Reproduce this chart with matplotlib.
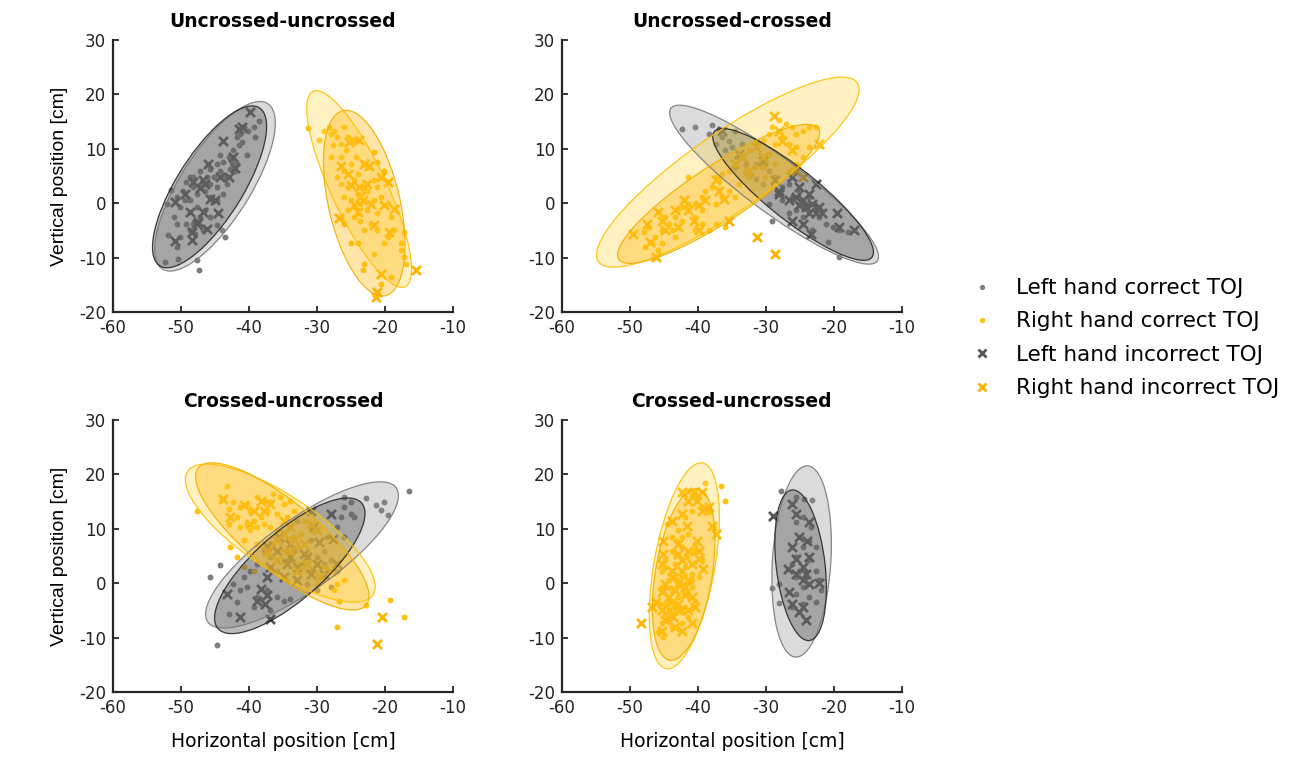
import numpy as np
import matplotlib
matplotlib.use("Agg")
import matplotlib.pyplot as plt
from matplotlib.patches import Ellipse
from matplotlib.lines import Line2D

titles = ["Uncrossed-uncrossed", "Uncrossed-crossed",
          "Crossed-uncrossed", "Crossed-uncrossed"]
x_ticks = [-60, -50, -40, -30, -20, -10]
y_ticks = [-20, -10, 0, 10, 20, 30]
legend_labels = ["Left hand correct TOJ", "Right hand correct TOJ",
                 "Left hand incorrect TOJ", "Right hand incorrect TOJ"]

# ---- panel 1: uncrossed-uncrossed ----
p1_left_ok = np.array([
    [-38.6, 15.1], [-39.1, 12.2], [-40.1, 13.3], [-40.8, 14.0], [-41.3, 12.7], [-41.8, 12.1],
    [-41.5, 10.6], [-42.3, 9.7], [-43.0, 8.5], [-43.8, 7.5], [-42.8, 6.3], [-42.0, 6.0],
    [-43.5, 4.8], [-44.2, 6.0], [-44.7, 7.2], [-45.7, 6.3], [-45.2, 4.8], [-44.7, 3.0],
    [-45.7, 3.6], [-46.5, 2.3], [-47.2, 3.0], [-47.7, 1.7], [-48.2, 3.0], [-48.7, 4.8],
    [-49.2, 3.9], [-49.7, 2.3], [-49.4, 0.5], [-50.2, -0.7], [-50.6, 1.1], [-51.4, 2.5],
    [-52.1, -0.1], [-51.1, -2.6], [-50.6, -3.8], [-50.2, -6.2], [-51.9, -5.9], [-50.6, -8.1],
    [-50.4, -10.2], [-52.4, -10.8], [-47.7, -10.5], [-47.3, -12.2], [-43.5, -6.2], [-44.0, -5.0],
    [-44.7, -4.1], [-45.7, -2.6], [-46.5, -1.3], [-47.2, -2.6], [-48.2, -3.8], [-48.7, -5.0],
    [-47.9, -5.6], [-45.7, 1.1], [-44.7, 0.5], [-43.8, 1.7], [-43.3, 3.6], [-44.2, 8.8],
    [-42.5, 7.5], [-41.8, 7.2], [-40.3, 8.8], [-41.0, 11.2], [-39.3, 14.0], [-48.2, 4.8],
    [-47.2, 6.0], [-46.2, 4.8], [-48.7, 0.5], [-47.7, -0.7], [-46.7, -5.0], [-49.2, -3.8]])
p1_left_err = np.array([
    [-39.8, 16.7], [-41.0, 14.0], [-41.5, 13.7], [-43.8, 11.5], [-42.3, 8.5], [-42.0, 6.5],
    [-46.0, 7.2], [-43.0, 4.8], [-44.2, 4.8], [-46.7, 4.2], [-48.2, 3.9], [-47.2, 2.7],
    [-46.5, 3.6], [-49.4, 1.7], [-50.9, 0.2], [-45.7, 0.8], [-44.5, -1.8], [-46.7, -1.6],
    [-48.7, -1.6], [-47.5, -3.5], [-46.2, -4.7], [-48.4, -5.3], [-48.4, -6.7], [-50.9, -7.0],
    [-47.7, -3.8], [-45.0, 0.5]])
p1_right_ok = np.array([
    [-31.3, 13.8], [-29.7, 11.6], [-29.0, 13.3], [-28.2, 14.0], [-28.0, 12.7], [-27.5, 13.3],
    [-27.0, 12.1], [-26.5, 10.9], [-26.0, 14.0], [-27.7, 10.6], [-28.0, 8.5], [-26.5, 8.5],
    [-25.8, 9.7], [-25.0, 7.2], [-26.0, 6.0], [-27.0, 4.8], [-26.5, 3.6], [-25.5, 3.0],
    [-24.5, 4.2], [-24.0, 5.4], [-23.1, 7.2], [-22.3, 6.6], [-21.6, 9.4], [-21.1, 7.5],
    [-20.1, 6.0], [-21.6, 4.2], [-23.1, 3.0], [-24.0, 1.7], [-25.0, 0.5], [-26.0, 1.1],
    [-25.5, -1.3], [-24.5, -2.6], [-23.6, -3.2], [-22.6, -1.3], [-21.6, 0.5], [-20.6, 1.1],
    [-19.6, -0.1], [-21.1, -1.9], [-22.1, -3.8], [-23.1, -5.0], [-24.0, -7.4], [-25.0, -7.4],
    [-26.0, -3.8], [-26.5, -2.6], [-23.6, -0.1], [-19.1, -2.6], [-18.6, -5.0], [-17.6, -7.4],
    [-17.2, -9.9], [-17.6, -8.7], [-20.1, -7.4], [-21.1, -5.0], [-19.6, -6.2], [-17.2, -5.3],
    [-16.9, -11.1], [-21.6, -9.3], [-23.1, -11.1], [-23.3, -12.3], [-20.6, -14.8], [-19.1, -13.6],
    [-24.0, -1.9], [-22.6, 2.3], [-21.1, 3.0], [-20.6, 4.8], [-24.3, 8.5], [-25.5, 12.1],
    [-24.5, 11.5]])
p1_right_err = np.array([
    [-25.3, 11.3], [-23.8, 11.6], [-26.5, 6.9], [-25.5, 5.4], [-23.1, 7.2], [-22.3, 6.9],
    [-20.6, 4.8], [-19.6, 3.9], [-22.6, 3.6], [-23.8, 3.0], [-23.6, 1.1], [-24.5, -0.4],
    [-23.3, 0.5], [-20.1, -0.4], [-18.6, -1.0], [-24.0, -1.6], [-26.8, -2.7], [-21.6, -4.1],
    [-19.4, -5.3], [-20.6, -13.0], [-21.1, -16.3], [-21.3, -17.2], [-15.4, -12.3], [-25.0, 3.3],
    [-22.1, -0.1]])

# ---- panel 2: uncrossed-crossed ----
p2_left_ok = np.array([
    [-42.4, 13.7], [-40.4, 14.0], [-37.9, 14.3], [-38.4, 12.7], [-36.9, 13.7], [-36.5, 12.1],
    [-35.5, 11.5], [-35.0, 10.3], [-36.0, 9.7], [-34.0, 8.5], [-34.5, 6.6], [-33.0, 7.2],
    [-32.5, 5.4], [-31.5, 4.5], [-30.5, 3.6], [-29.6, 6.0], [-28.6, 4.8], [-27.6, 3.0],
    [-26.6, 3.6], [-26.1, 1.1], [-25.1, 2.3], [-24.6, -0.1], [-25.6, -1.3], [-26.6, -1.9],
    [-23.6, 1.1], [-22.7, -0.7], [-22.2, -2.6], [-21.2, -3.8], [-20.2, -4.4], [-19.2, -5.0],
    [-18.0, -5.3], [-20.9, -7.1], [-19.2, -9.9], [-23.2, -5.0], [-24.6, -2.6], [-27.6, 0.5],
    [-29.1, -3.2], [-29.6, -0.1], [-28.1, 1.7], [-30.5, 6.6], [-31.5, 7.2], [-33.5, 10.9],
    [-37.4, 10.9], [-34.5, 13.3]])
p2_left_err = np.array([
    [-36.5, 13.3], [-34.0, 9.1], [-32.5, 6.0], [-30.5, 7.8], [-28.6, 4.2], [-26.1, 4.8],
    [-25.1, 3.0], [-28.1, 1.7], [-26.6, 0.5], [-25.6, 1.1], [-24.6, 0.5], [-24.1, -0.7],
    [-23.2, -0.1], [-22.7, 3.6], [-22.2, -0.7], [-23.6, -1.9], [-22.7, -1.9], [-21.7, -1.9],
    [-26.1, -3.2], [-24.6, -3.8], [-19.5, -1.9], [-19.2, -4.4], [-17.0, -5.0], [-23.4, -5.6],
    [-28.1, 2.3], [-25.1, -0.4], [-23.6, 1.7]])
p2_right_ok = np.array([
    [-48.0, -5.3], [-47.3, -4.4], [-46.3, -6.2], [-45.3, -5.0], [-44.3, -3.8], [-43.4, -2.6],
    [-42.4, -3.2], [-41.4, -1.3], [-40.4, -0.1], [-39.4, 1.1], [-38.9, 2.3], [-37.9, 3.0],
    [-36.9, 4.2], [-36.5, 5.4], [-35.5, 6.0], [-34.5, 7.2], [-33.5, 8.5], [-32.5, 9.7],
    [-31.5, 10.9], [-30.5, 11.5], [-29.6, 12.7], [-29.1, 14.0], [-28.1, 15.2], [-27.1, 14.6],
    [-26.1, 14.0], [-25.6, 12.7], [-24.6, 13.3], [-23.6, 14.0], [-22.7, 14.0], [-23.6, 10.3],
    [-24.6, 8.5], [-25.6, 7.2], [-26.6, 6.0], [-28.6, 7.2], [-29.6, 9.1], [-30.5, 6.6],
    [-32.5, 4.8], [-34.0, 3.6], [-35.5, 2.3], [-36.5, 1.1], [-37.4, -0.1], [-38.4, -5.0],
    [-39.4, -3.8], [-40.4, -2.6], [-41.4, -0.1], [-42.4, -0.7], [-43.8, -5.0], [-45.3, -7.4],
    [-45.8, -8.7], [-46.3, -9.9], [-44.8, -2.6], [-42.9, -1.3], [-39.4, -1.3], [-36.0, -4.4],
    [-34.5, 1.1], [-37.4, 4.8], [-41.4, 4.8], [-27.6, 12.1], [-26.6, 10.9], [-25.6, 10.3],
    [-28.6, 10.9], [-31.5, 6.6], [-33.0, 6.0], [-30.1, 4.8], [-37.4, -3.8], [-40.4, -5.0],
    [-43.4, -6.2], [-46.8, -7.4], [-47.8, -8.1]])
p2_right_err = np.array([
    [-49.5, -5.7], [-47.5, -3.8], [-47.0, -7.1], [-46.1, -9.9], [-45.8, -1.6], [-45.3, -3.2],
    [-44.8, -5.0], [-43.4, -1.3], [-42.9, -4.4], [-42.1, 0.5], [-41.4, -1.3], [-40.6, -3.2],
    [-39.9, -5.0], [-39.9, -0.4], [-38.9, 0.5], [-37.4, 4.2], [-36.9, 2.3], [-36.2, 0.8],
    [-35.5, -3.2], [-34.5, 7.2], [-33.5, 8.5], [-31.5, 10.3], [-31.3, -6.2], [-28.8, 16.1],
    [-28.6, -9.3], [-28.1, 13.3], [-27.6, 11.5], [-26.1, 9.7], [-25.6, 6.0], [-24.6, 4.8],
    [-22.2, 10.9], [-32.5, 6.0], [-30.5, 8.5]])

# ---- panel 3: crossed-uncrossed ----
p3_left_ok = np.array([
    [-16.4, 17.0], [-20.1, 14.9], [-21.3, 14.3], [-19.6, 12.6], [-22.8, 15.7], [-25.0, 14.9],
    [-26.0, 14.0], [-25.0, 12.7], [-26.5, 12.1], [-28.0, 12.7], [-27.0, 10.3], [-26.0, 8.5],
    [-28.5, 8.5], [-29.0, 6.0], [-30.9, 7.9], [-30.0, 4.8], [-28.0, 4.2], [-27.0, 2.3],
    [-29.0, 1.1], [-30.9, 2.3], [-31.9, 3.6], [-33.4, 6.0], [-32.9, 3.0], [-34.9, 4.2],
    [-35.9, 2.3], [-36.9, 4.8], [-37.8, 6.0], [-38.8, 3.6], [-39.8, 2.3], [-40.8, 1.1],
    [-42.3, -0.1], [-41.3, -1.3], [-40.3, -0.7], [-38.8, -2.6], [-37.3, -1.3], [-35.9, -2.6],
    [-34.9, -3.2], [-33.9, -2.9], [-36.9, -5.0], [-39.3, -4.4], [-41.8, -3.5], [-43.0, -5.7],
    [-44.2, 3.3], [-45.7, 1.2], [-44.7, -11.4], [-30.0, -1.3], [-28.0, -0.7], [-31.4, -0.1],
    [-29.0, 3.6], [-24.5, 12.1], [-26.0, 15.8], [-20.6, 13.4], [-30.9, 13.3], [-32.9, 11.5]])
p3_left_err = np.array([
    [-30.9, 13.3], [-30.5, 10.6], [-28.0, 12.7], [-27.7, 8.1], [-29.7, 7.5], [-37.3, 6.9],
    [-35.9, 6.0], [-33.9, 4.8], [-31.9, 5.4], [-34.4, 3.6], [-32.9, 3.0], [-31.4, 4.8],
    [-30.0, 3.6], [-36.9, 3.0], [-37.3, 1.1], [-34.9, 1.1], [-32.9, 0.5], [-30.9, 1.7],
    [-29.0, 1.7], [-27.0, 3.6], [-38.3, -1.0], [-37.3, -2.2], [-37.6, -3.8], [-38.8, -3.2],
    [-43.3, -1.9], [-41.3, -6.2], [-36.9, -6.5], [-35.6, 8.5], [-33.9, 7.2]])
p3_right_ok = np.array([
    [-47.6, 13.3], [-43.3, 17.9], [-44.0, 15.5], [-42.3, 14.9], [-43.0, 13.7], [-41.3, 14.0],
    [-40.3, 14.6], [-39.8, 13.3], [-38.8, 15.8], [-37.8, 15.2], [-36.9, 14.9], [-36.4, 16.4],
    [-35.4, 15.8], [-34.9, 14.6], [-33.9, 15.2], [-33.4, 13.3], [-34.4, 12.1], [-35.9, 12.7],
    [-37.3, 13.3], [-38.3, 12.1], [-39.3, 11.5], [-40.3, 10.9], [-41.3, 10.3], [-39.8, 9.7],
    [-38.8, 10.3], [-37.8, 10.9], [-36.9, 10.3], [-35.9, 9.7], [-35.4, 8.5], [-34.4, 7.9],
    [-33.4, 8.5], [-32.4, 9.1], [-32.9, 6.6], [-33.9, 6.0], [-34.9, 6.0], [-36.4, 7.2],
    [-37.3, 5.4], [-38.8, 7.2], [-40.8, 7.9], [-42.8, 6.6], [-41.8, 4.8], [-40.8, 3.0],
    [-39.3, 2.3], [-32.9, 3.6], [-31.4, 2.3], [-29.0, 3.0], [-30.0, -0.1], [-27.0, -0.1],
    [-27.5, -1.3], [-26.8, -3.3], [-22.8, -4.0], [-19.2, -3.0], [-17.2, -6.3], [-27.0, -8.1],
    [-26.0, 0.5], [-30.9, 9.7], [-31.9, 11.5], [-41.8, 12.1], [-43.0, 10.9]])
p3_right_err = np.array([
    [-43.8, 15.5], [-42.8, 12.1], [-40.8, 14.3], [-39.8, 10.9], [-38.3, 15.2], [-36.9, 14.6],
    [-37.8, 13.3], [-34.9, 11.5], [-37.3, 6.0], [-35.9, 7.9], [-34.9, 9.1], [-33.4, 7.9],
    [-33.9, 6.0], [-31.9, 7.2], [-30.9, 10.9], [-30.0, 9.7], [-35.9, 4.2], [-32.9, 2.3],
    [-31.4, 3.6], [-29.5, 1.1], [-28.0, 2.3], [-20.4, -6.2], [-21.1, -11.1], [-39.3, 13.3],
    [-33.9, 10.3]])

# ---- panel 4: crossed-uncrossed (second) ----
p4_left_ok = np.array([
    [-27.8, 17.0], [-25.6, 15.8], [-24.4, 15.5], [-23.2, 15.3], [-24.6, 12.1], [-25.6, 11.2],
    [-23.4, 10.3], [-22.7, 6.6], [-23.6, 7.8], [-24.6, 6.6], [-25.6, 4.8], [-26.1, 3.6],
    [-25.1, 2.3], [-24.1, 1.1], [-22.7, 2.3], [-24.6, -0.7], [-25.6, -1.9], [-23.6, -2.6],
    [-22.7, -3.5], [-24.6, -3.8], [-26.1, -4.4], [-28.1, -3.7], [-29.1, -0.9], [-28.1, -0.1],
    [-21.9, -1.3], [-22.2, 0.5], [-25.6, 1.1], [-23.6, 4.2]])
p4_left_err = np.array([
    [-29.0, 12.4], [-26.1, 14.6], [-25.6, 12.7], [-23.6, 11.2], [-25.1, 8.5], [-23.9, 7.8],
    [-26.1, 6.6], [-23.6, 4.8], [-25.6, 4.5], [-26.8, 2.7], [-24.6, 3.0], [-24.1, 1.7],
    [-24.6, 0.5], [-23.6, -0.1], [-22.2, 0.0], [-26.6, -1.6], [-26.1, -3.8], [-24.6, -4.4],
    [-25.1, -5.3], [-24.1, -6.8], [-25.6, 1.7]])
p4_right_ok = np.array([
    [-38.9, 18.5], [-36.6, 17.8], [-36.0, 15.2], [-38.4, 13.0], [-37.7, 10.3], [-41.4, 17.0],
    [-42.4, 16.4], [-40.4, 15.8], [-39.4, 14.0], [-40.9, 13.3], [-41.9, 12.1], [-43.8, 11.5],
    [-44.6, 10.9], [-42.9, 9.7], [-41.4, 9.1], [-40.4, 7.2], [-42.4, 6.6], [-43.8, 6.0],
    [-44.8, 4.2], [-43.4, 3.6], [-41.9, 3.0], [-40.9, 1.7], [-42.4, 1.1], [-44.3, 0.5],
    [-45.3, -0.7], [-43.8, -1.3], [-42.9, -2.6], [-41.4, -1.9], [-40.4, -3.2], [-41.9, -4.4],
    [-43.4, -5.0], [-44.8, -5.6], [-45.3, -7.4], [-43.8, -8.1], [-45.8, -9.0], [-45.1, -9.9],
    [-42.4, -7.4], [-41.4, -6.2], [-39.9, 1.1], [-39.4, 4.2], [-45.3, 2.3], [-45.6, -3.8],
    [-44.3, -3.2], [-42.9, -0.1], [-40.9, -0.7], [-43.4, 5.4], [-42.4, 8.5], [-43.8, 8.5],
    [-44.6, -0.7], [-43.1, 0.8], [-42.1, -1.3], [-40.9, 0.5], [-43.4, -4.4], [-44.3, -6.5],
    [-42.4, -5.3], [-44.8, 3.0], [-41.6, 4.8], [-40.6, 6.0], [-43.1, 7.8], [-44.8, -3.8]])
p4_right_err = np.array([
    [-48.3, -7.3], [-46.8, -4.4], [-46.1, -3.5], [-45.3, 3.6], [-45.1, 7.8], [-43.8, 11.5],
    [-42.4, 16.7], [-41.4, 15.2], [-40.6, 16.7], [-40.1, 15.2], [-39.4, 13.3], [-37.9, 10.6],
    [-37.4, 9.1], [-40.1, 7.8], [-42.9, 7.2], [-41.4, 6.0], [-39.9, 4.5], [-39.2, 2.7],
    [-42.4, 4.2], [-43.8, 2.3], [-42.9, -0.1], [-41.9, -0.7], [-40.9, -2.6], [-44.3, -2.6],
    [-45.3, -5.0], [-42.9, -3.8], [-41.4, -5.0], [-44.8, -6.8], [-43.4, -8.1], [-45.3, -8.7],
    [-42.4, -8.7], [-43.6, -6.2], [-40.9, -7.4],
    [-43.8, 1.1], [-42.4, 2.3], [-41.4, 0.5], [-44.8, -0.1], [-43.4, -1.3], [-45.3, -1.6],
    [-41.9, -2.2], [-43.8, -3.5], [-42.6, -5.0], [-40.4, -4.4], [-44.3, -5.0], [-40.9, 3.6],
    [-42.9, 5.4], [-45.1, 5.4], [-39.9, 6.0], [-41.6, 10.6], [-39.4, 16.7], [-38.4, 14.0],
    [-42.4, 12.7]])

# ellipses per panel: [center x, center y, semi-major, semi-minor, angle deg]
# order: left light, left dark, right light, right dark
p1_ellipses = [[-45.0, 3.1, 17.1, 5.4, 64.3], [-45.8, 3.0, 16.3, 5.1, 64.5],
               [-23.8, 2.6, 19.2, 4.2, -69.8], [-23.05, 0.0, 17.3, 5.3, -80.2]]
p2_ellipses = [[-28.8, 3.4, 20.7, 4.6, -43.4], [-26.0, 1.6, 16.4, 4.2, -45.8],
               [-35.6, 5.7, 25.2, 6.6, 41.7], [-36.95, 1.7, 19.0, 4.8, 40.1]]
p3_ellipses = [[-32.2, 5.2, 18.6, 6.0, 43.1], [-34.0, 3.2, 15.7, 5.6, 49.4],
               [-35.4, 9.2, 17.8, 6.3, -41.5], [-35.1, 8.6, 17.7, 5.7, -47.1]]
p4_ellipses = [[-24.75, 4.0, 17.6, 4.3, 87.2], [-24.9, 3.3, 13.9, 3.6, 95.1],
               [-42.0, 3.2, 19.1, 4.5, 82.2], [-42.1, 1.6, 15.9, 4.2, 82.9]]

panels = [
    (p1_left_ok, p1_left_err, p1_right_ok, p1_right_err, p1_ellipses),
    (p2_left_ok, p2_left_err, p2_right_ok, p2_right_err, p2_ellipses),
    (p3_left_ok, p3_left_err, p3_right_ok, p3_right_err, p3_ellipses),
    (p4_left_ok, p4_left_err, p4_right_ok, p4_right_err, p4_ellipses),
]

gray_dot = "#7d7d7d"
gray_x = "#555555"
gold_dot = "#FFC20E"
gold_x = "#FFB400"
axis_col = "#262626"

ell_styles = [
    dict(facecolor="#8f9095", alpha=0.32, edgecolor="#7a7a7a"),
    dict(facecolor="#4d4d4d", alpha=0.38, edgecolor="#262626"),
    dict(facecolor="#FFD84A", alpha=0.34, edgecolor="#FFC000"),
    dict(facecolor="#FFB300", alpha=0.34, edgecolor="#F0B000"),
]

plt.rcParams.update({
    "font.family": ["DejaVu Sans"],
    "axes.unicode_minus": False,
})

fig = plt.figure(figsize=(12.99, 7.65), dpi=100)
lefts = [0.0870, 0.4326]
bottoms = [0.5922, 0.0954]
w, h = 0.2617, 0.3556

for i, (l_ok, l_err, r_ok, r_err, ells) in enumerate(panels):
    row, col = divmod(i, 2)
    ax = fig.add_axes([lefts[col], bottoms[row], w, h])

    ax.scatter(l_ok[:, 0], l_ok[:, 1], s=18, color=gray_dot, linewidths=0, zorder=2)
    ax.scatter(r_ok[:, 0], r_ok[:, 1], s=18, color=gold_dot, linewidths=0, zorder=2)
    ax.scatter(l_err[:, 0], l_err[:, 1], s=42, marker="x", color=gray_x, linewidths=2.0, zorder=2)
    ax.scatter(r_err[:, 0], r_err[:, 1], s=42, marker="x", color=gold_x, linewidths=2.0, zorder=2)

    for (cx, cy, a, b, ang), st in zip(ells, ell_styles):
        fill = Ellipse((cx, cy), 2 * a, 2 * b, angle=ang,
                       facecolor=st["facecolor"], alpha=st["alpha"], edgecolor="none", zorder=3)
        ax.add_patch(fill)
        rim = Ellipse((cx, cy), 2 * a, 2 * b, angle=ang, facecolor="none",
                      edgecolor=st["edgecolor"], linewidth=0.9, alpha=0.9, zorder=4)
        ax.add_patch(rim)

    ax.set_xlim(-60, -10)
    ax.set_ylim(-20, 30)
    ax.set_xticks(x_ticks)
    ax.set_yticks(y_ticks)
    ax.tick_params(direction="in", length=4, width=1.3, color=axis_col,
                   labelsize=12, labelcolor="#222222", pad=5)
    for side in ["top", "right"]:
        ax.spines[side].set_visible(False)
    for side in ["left", "bottom"]:
        ax.spines[side].set_color(axis_col)
        ax.spines[side].set_linewidth(1.6)

    ax.set_title(titles[i], fontsize=13.5, fontweight="bold", pad=9)
    if col == 0:
        ax.set_ylabel("Vertical position [cm]", fontsize=14, labelpad=8,
                      family="Liberation Sans")
    if row == 1:
        ax.set_xlabel("Horizontal position [cm]", fontsize=13.5, labelpad=11)

handles = [
    Line2D([], [], linestyle="none", marker="o", markersize=3.8, color=gray_dot, markeredgewidth=0),
    Line2D([], [], linestyle="none", marker="o", markersize=3.8, color=gold_dot, markeredgewidth=0),
    Line2D([], [], linestyle="none", marker="x", markersize=5.5, color=gray_x, markeredgewidth=2.0),
    Line2D([], [], linestyle="none", marker="x", markersize=5.5, color=gold_x, markeredgewidth=2.0),
]
fig.legend(handles, legend_labels, loc="center left", bbox_to_anchor=(0.731, 0.558),
           frameon=False, fontsize=15.5, handlelength=1.2, handletextpad=1.0, labelspacing=0.62)

fig.savefig("out.png", dpi=100)
